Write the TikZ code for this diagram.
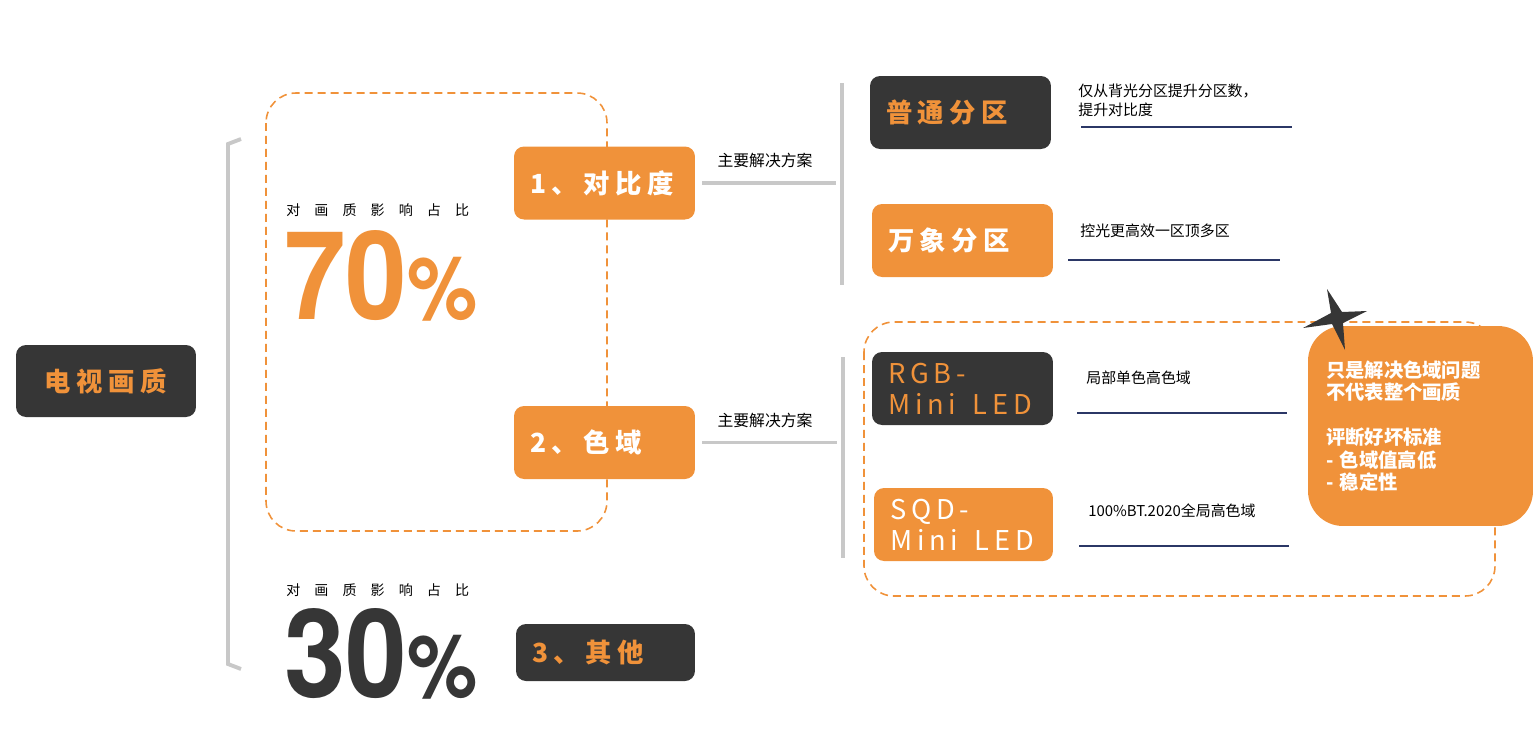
\documentclass[tikz,border=0pt]{standalone}
\usepackage{fontspec}
\setmainfont{Noto Sans CJK SC}
\newfontfamily\titlefont[LetterSpace=21]{Noto Sans CJK SC}
\newfontfamily\ledfont[LetterSpace=18]{Noto Sans CJK SC}
\newfontfamily\sparsefont[LetterSpace=100]{Noto Sans CJK SC}
\newfontfamily\numfont[FakeStretch=0.9]{TeX Gyre Heros}
\definecolor{tvorange}{HTML}{F0923A}
\definecolor{tvdark}{HTML}{363636}
\definecolor{tvgray}{HTML}{C8C8C8}
\definecolor{tvnavy}{HTML}{2B3766}
\begin{document}
\begin{tikzpicture}[x=0.02cm,y=-0.02cm,
  box/.style={rounded corners=0.2cm,minimum height=1.46cm,text width=2.98cm,inner xsep=0.32cm,inner ysep=0pt,align=left,font=\titlefont\bfseries\fontsize{15}{18}\selectfont},
  darkbox/.style={box,fill=tvdark,text=tvorange},
  orangebox/.style={box,fill=tvorange,text=white},
  ledtext/.style={font=\ledfont\fontsize{15.5}{17.5}\selectfont},
  grayline/.style={draw=tvgray,line width=2pt},
  navyline/.style={draw=tvnavy,line width=1.1pt},
  dashbox/.style={draw=tvorange,line width=0.9pt,dash pattern=on 0.16cm off 0.1cm,rounded corners=0.6cm},
  share/.style={anchor=west,inner sep=0pt,font=\sparsefont\fontsize{8}{10}\selectfont},
  percent/.style={anchor=base west,inner sep=0pt,font=\numfont\bfseries\fontsize{70}{74}\selectfont},
  note/.style={anchor=west,inner sep=0pt,align=left,font=\fontsize{8.5}{10.8}\selectfont},
  solution/.style={inner sep=0pt,font=\fontsize{9}{11}\selectfont}]
  \useasboundingbox (0,0) rectangle (1538,738);

  \draw[dashbox] (266,93) rectangle (607,531);
  \draw[dashbox] (864,322) rectangle (1495,596);

  \node[darkbox,text width=2.64cm,inner xsep=0.48cm,minimum height=1.44cm,align=center] (tv) at (106,381) {电视画质};
  \draw[draw=tvgray,line width=2.2pt] (241,139) -- (228,144) -- (228,664) -- (241,669);

  \node[share] (share1) at (286,210) {对画质影响占比};
  \node[percent,text=tvorange] (p70) at (284,319) {70{\fontsize{50}{54}\selectfont\%}};
  \node[share] (share2) at (286,590) {对画质影响占比};
  \node[percent,text=tvdark] (p30) at (284,697) {30{\fontsize{50}{54}\selectfont\%}};

  \node[orangebox] (contrast) at (604.5,183) {1、对比度};
  \node[orangebox] (gamut) at (604.5,442.5) {2、色域};
  \node[darkbox,minimum height=1.14cm,text width=2.94cm] (other) at (605.5,652.5) {3、其他};

  \coordinate (v1) at (842,183);
  \coordinate (v2) at (843,442.5);
  \draw[grayline,shorten <=0.14cm,shorten >=0.12cm] (contrast) -- (v1);
  \draw[grayline,shorten <=0.14cm,shorten >=0.12cm] (gamut) -- (v2);
  \draw[grayline] (842,83) -- (842,285);
  \draw[grayline] (843,357) -- (843,558);
  \node[solution] (sol1) at (765,160) {主要解决方案};
  \node[solution] (sol2) at (765,420) {主要解决方案};

  \node[darkbox] (normal) at (960.5,112.5) {普通分区};
  \node[orangebox] (wanxiang) at (962.5,240.5) {万象分区};
  \node[darkbox,ledtext] (rgb) at (962.5,388.5) {RGB-\\\mbox{Mini\hspace{0.6em}LED}};
  \node[orangebox,ledtext,text width=2.94cm] (sqd) at (963.5,524.5) {SQD-\\\mbox{Mini\hspace{0.6em}LED}};

  \node[note] (n1) at (1078,100) {仅从背光分区提升分区数，\\提升对比度};
  \node[note] (n2) at (1080,231) {控光更高效一区顶多区};
  \node[note] (n3) at (1086,378) {局部单色高色域};
  \node[note] (n4) at (1088,511) {100\%BT.2020全局高色域};
  \draw[navyline] (1081,127) -- (1292,127);
  \draw[navyline] (1068,260) -- (1280,260);
  \draw[navyline] (1077,413) -- (1287,413);
  \draw[navyline] (1079,546) -- (1289,546);

  \node[fill=tvorange,text=white,rounded corners=0.7cm,minimum width=4.5cm,minimum height=4cm,text width=3.78cm,inner xsep=0.36cm,inner ysep=0pt,align=left,font=\bfseries\fontsize{11}{12.75}\selectfont] (remark) at (1420.5,426) {只是解决色域问题\\不代表整个画质\\[12.75pt]评断好坏标准\\- 色域值高低\\- 稳定性};
  \fill[tvdark] (1327,289) -- (1342,312) -- (1367,311) -- (1343,323) -- (1345,350) -- (1332,324) -- (1303,328) -- (1331,313) -- cycle;
\end{tikzpicture}
\end{document}
